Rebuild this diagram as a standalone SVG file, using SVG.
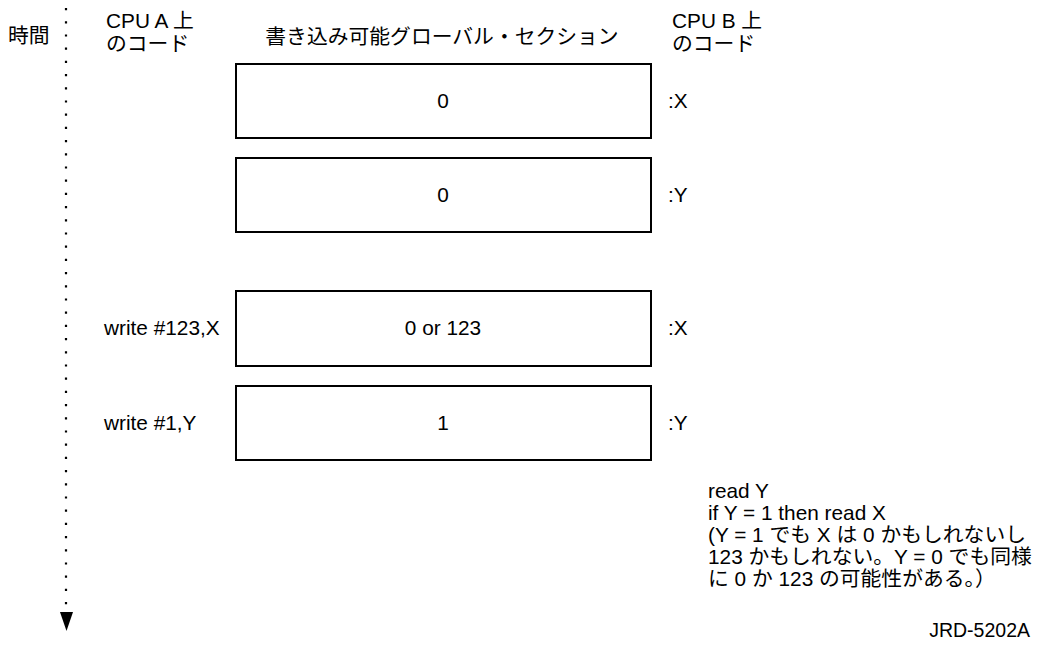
<svg xmlns="http://www.w3.org/2000/svg" width="1044" height="647" viewBox="0 0 1044 647">
<style>
text{font-family:"Liberation Sans","Noto Sans CJK JP",sans-serif;font-size:20.8px;fill:#000}
.box{fill:#fff;stroke:#000;stroke-width:2}
.c{text-anchor:middle}
</style>
<rect width="1044" height="647" fill="#fff"/>
<g id="connectors">
<line x1="66" y1="8" x2="66" y2="606" stroke="#000" stroke-width="2.2" stroke-dasharray="2.2 11"/>
<polygon points="60,612 73,612 66.5,631" fill="#000"/>
</g>
<g id="labels">
<text x="8" y="43">時間</text>
<text x="106" y="28">CPU A 上</text>
<text x="106" y="51">のコード</text>
<text x="442" y="44" class="c">書き込み可能グローバル・セクション</text>
<text x="672" y="28">CPU B 上</text>
<text x="672" y="51">のコード</text>
</g>
<g id="box1">
<rect class="box" x="236" y="64" width="415" height="74"/>
<text x="443" y="108" class="c">0</text>
<text x="668" y="108">:X</text>
</g>
<g id="box2">
<rect class="box" x="236" y="158" width="415" height="74"/>
<text x="443" y="202" class="c">0</text>
<text x="668" y="202">:Y</text>
</g>
<g id="box3">
<text x="104" y="335">write #123,X</text>
<rect class="box" x="236" y="291" width="415" height="75"/>
<text x="443" y="335" class="c">0 or 123</text>
<text x="668" y="335">:X</text>
</g>
<g id="box4">
<text x="104" y="430">write #1,Y</text>
<rect class="box" x="236" y="386" width="415" height="74"/>
<text x="443" y="430" class="c">1</text>
<text x="668" y="430">:Y</text>
</g>
<g id="note">
<text x="708" y="498">read Y</text>
<text x="708" y="520">if Y = 1 then read X</text>
<text x="708" y="542">(Y = 1 でも X は 0 かもしれないし</text>
<text x="708" y="564">123 かもしれない。Y = 0 でも同様</text>
<text x="708" y="586">に 0 か 123 の可能性がある。）</text>
</g>
<text x="1030" y="637" text-anchor="end" style="font-size:19.5px">JRD-5202A</text>
</svg>
